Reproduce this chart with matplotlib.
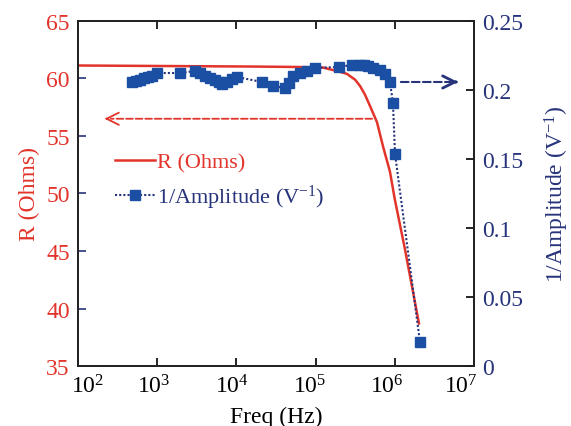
import matplotlib
matplotlib.use("Agg")
import matplotlib.pyplot as plt
import matplotlib.transforms as mtransforms

# Resistenza (asse sinistro)
r_freq = [100, 14860, 63500, 124000, 186000, 249000, 315000, 364000, 420000,
          487000, 596000, 710000, 869000, 1000000, 1340000, 2020000]
r_ohms = [61.13, 61.04, 61.0, 60.95, 60.65, 60.4, 59.9, 59.35, 58.6,
          57.6, 56.2, 54.1, 51.9, 49.5, 45.2, 38.7]

# 1/Ampiezza (asse destro)
amp_freq = [481, 540, 606, 680, 766, 870, 993, 1941, 3000, 3500, 4015, 4600,
            5370, 6000, 6580, 7600, 8800, 10190, 21050, 28970, 41100, 46000,
            51900, 63500, 77800, 98200, 197000, 288000, 363000, 410000, 459000,
            531000, 650000, 752000, 869000, 948000, 1007000, 2080000]
inv_amp = [0.2058, 0.2065, 0.2075, 0.2085, 0.2095, 0.2105, 0.2123, 0.2123,
           0.2138, 0.2120, 0.2105, 0.2090, 0.2075, 0.2058, 0.2043, 0.2060,
           0.2080, 0.2094, 0.2058, 0.2029, 0.2014, 0.2050, 0.2101, 0.2120,
           0.2138, 0.2160, 0.2167, 0.2181, 0.2181, 0.2178, 0.2172, 0.2160,
           0.2145, 0.2116, 0.2058, 0.1906, 0.1536, 0.0174]

freq_ticks = [1e2, 1e3, 1e4, 1e5, 1e6, 1e7]

RED = "#e2342b"
NAVY = "#27337a"
BLUE = "#1a4fa3"

plt.rcParams["font.family"] = ["Liberation Serif", "DejaVu Serif"]
plt.rcParams["mathtext.fontset"] = "custom"
plt.rcParams["mathtext.rm"] = "Liberation Serif"
plt.rcParams["mathtext.it"] = "Liberation Serif:italic"
plt.rcParams["mathtext.bf"] = "Liberation Serif:bold"


def main():
    fig = plt.figure(figsize=(5.71, 4.27), dpi=100)
    ax = fig.add_axes([0.1366, 0.1405, 0.6935, 0.808])
    ax2 = ax.twinx()

    l1, = ax.plot(r_freq, r_ohms, color=RED, lw=1.8, label="R (Ohms)")
    l2, = ax2.plot(amp_freq, inv_amp, color=NAVY, ls=(0, (1, 1)), lw=1.5,
                   marker="s", ms=7.5, mfc=BLUE, mec=BLUE,
                   label="1/Amplitude (V$^{-1}$)")

    ax.set_xscale("log")
    ax.set_xlim(1e2, 1e7)
    ax.set_xticks(freq_ticks)
    ax.set_ylim(35, 65)
    ax2.set_ylim(0, 0.25)
    ax.set_yticks([35, 40, 45, 50, 55, 60, 65])
    ax2.set_yticks([0, 0.05, 0.1, 0.15, 0.2, 0.25])
    ax2.set_yticklabels(["0", "0.05", "0.1", "0.15", "0.2", "0.25"])
    ax.minorticks_off()

    ax.tick_params(axis="x", direction="in", top=True, length=6, width=1.2,
                   labelsize=17, pad=6)
    ax.tick_params(axis="y", direction="in", length=6, width=1.2,
                   labelsize=17, labelcolor=RED, color=NAVY, pad=6)
    ax2.tick_params(axis="y", direction="in", length=6, width=1.2,
                    labelsize=17, labelcolor=NAVY, pad=6)
    for a in (ax, ax2):
        for s in a.spines.values():
            s.set_linewidth(1.3)
            s.set_color("#222222")

    # Sposta leggermente le etichette estreme come nell'originale
    shifts = [10, -3, -4, -6, -8, -13]
    for lab, dx in zip(ax.get_xticklabels(), shifts):
        lab.set_transform(lab.get_transform() +
                          mtransforms.ScaledTranslation(dx / 100, 0,
                                                        fig.dpi_scale_trans))

    ax.set_xlabel("Freq (Hz)", fontsize=17, labelpad=6)
    ax.set_ylabel("R (Ohms)", fontsize=17, color=RED, labelpad=4)
    ax2.set_ylabel("1/Amplitude (V$^{-1}$)", fontsize=17, color=NAVY,
                   labelpad=14)

    # Frecce tratteggiate che indicano l'asse di riferimento
    ax.annotate("", xy=(240, 56.5), xytext=(5.6e5, 56.5),
                arrowprops=dict(arrowstyle="-", color=RED, lw=1.3, ls="--"))
    ax.annotate("", xy=(200, 56.5), xytext=(260, 56.5),
                arrowprops=dict(arrowstyle="->", color=RED, lw=1.3,
                                mutation_scale=22))
    ax2.annotate("", xy=(5.6e6, 0.2058), xytext=(1.1e6, 0.2058),
                 arrowprops=dict(arrowstyle="-", color=NAVY, lw=1.5, ls="--"))
    ax2.annotate("", xy=(6.8e6, 0.2058), xytext=(5.4e6, 0.2058),
                 arrowprops=dict(arrowstyle="->", color=NAVY, lw=2.0,
                                 mutation_scale=22))

    leg = ax.legend([l1, l2], [l1.get_label(), l2.get_label()],
                    loc="upper left", bbox_to_anchor=(0.07, 0.645),
                    frameon=False, fontsize=16, handlelength=1.8,
                    handletextpad=0.1, labelspacing=0.45, borderaxespad=0)
    leg.get_texts()[0].set_color(RED)
    leg.get_texts()[1].set_color(NAVY)

    fig.savefig("out.png", dpi=100)


if __name__ == "__main__":
    main()
